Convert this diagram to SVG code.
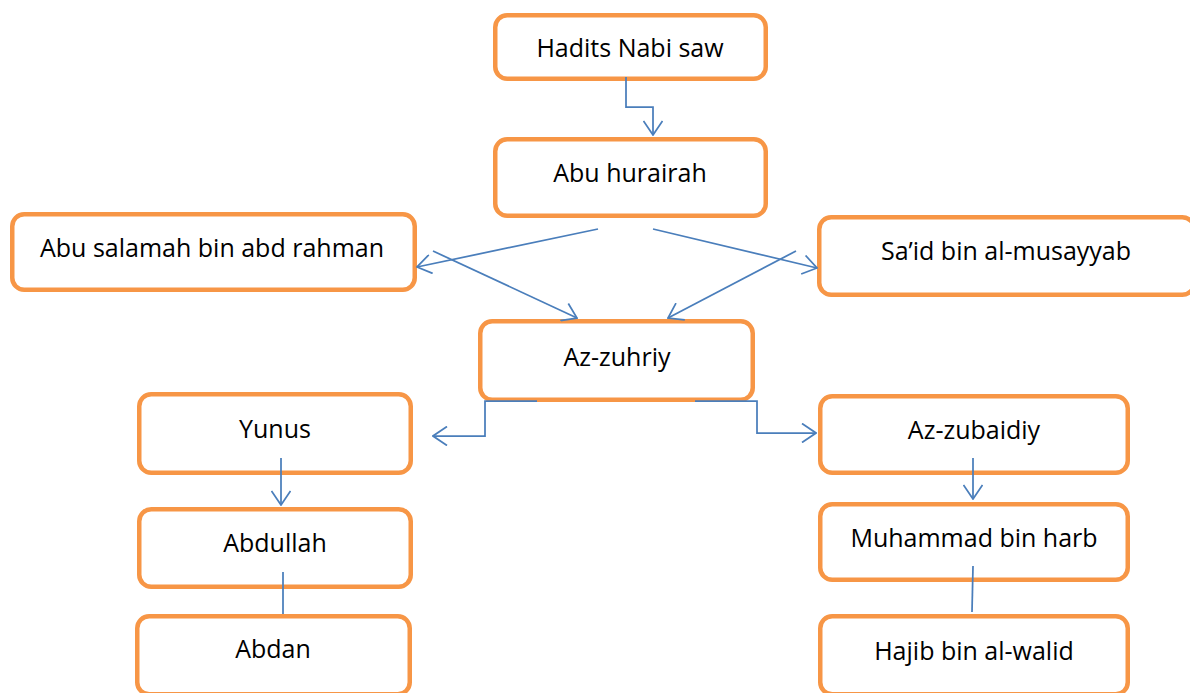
<svg xmlns="http://www.w3.org/2000/svg" width="1190" height="693" viewBox="0 0 1190 693">
<style>
.box{fill:#ffffff;stroke:#F79646;stroke-width:4.5}
.lbl{font-family:"Open Sans","Liberation Sans",sans-serif;font-size:25px;fill:#000000;text-anchor:middle}
.con{fill:none;stroke:#4A7EBB;stroke-width:1.75}
</style>
<defs>
<marker id="arr" viewBox="0 0 16 20" refX="15" refY="10" markerWidth="16" markerHeight="20" markerUnits="userSpaceOnUse" orient="auto">
<path d="M1,0.5 L15,10 L1,19.5" fill="none" stroke="#4A7EBB" stroke-width="1.75"/>
</marker>
</defs>
<rect width="1190" height="693" fill="#ffffff"/>
<g id="n-hadits"><rect class="box" x="495.25" y="15.25" width="270.5" height="63.5" rx="12"/><text class="lbl" x="630" y="57">Hadits Nabi saw</text></g>
<g id="n-abuhurairah"><rect class="box" x="495.25" y="139.25" width="270.5" height="76.5" rx="12"/><text class="lbl" x="630" y="182">Abu hurairah</text></g>
<g id="n-abusalamah"><rect class="box" x="12.25" y="214.25" width="402.5" height="75.5" rx="12"/><text class="lbl" x="212" y="257">Abu salamah bin abd rahman</text></g>
<g id="n-said"><rect class="box" x="819.25" y="217.25" width="375" height="77.5" rx="12"/><text class="lbl" x="1006" y="260">Sa’id bin al-musayyab</text></g>
<g id="n-azzuhriy"><rect class="box" x="480.25" y="321.25" width="272.5" height="78.5" rx="12"/><text class="lbl" x="617" y="366">Az-zuhriy</text></g>
<g id="n-yunus"><rect class="box" x="139.25" y="394.25" width="271.5" height="78.5" rx="12"/><text class="lbl" x="275" y="438">Yunus</text></g>
<g id="n-azzubaidiy"><rect class="box" x="820.25" y="396.25" width="307.5" height="76.5" rx="12"/><text class="lbl" x="974" y="439">Az-zubaidiy</text></g>
<g id="n-abdullah"><rect class="box" x="139.25" y="509.25" width="271.5" height="77.5" rx="12"/><text class="lbl" x="275" y="552">Abdullah</text></g>
<g id="n-muhammad"><rect class="box" x="820.25" y="504.25" width="307.5" height="75.5" rx="12"/><text class="lbl" x="974" y="547">Muhammad bin harb</text></g>
<g id="n-abdan"><rect class="box" x="137.25" y="616.25" width="272.5" height="78" rx="12"/><text class="lbl" x="273" y="658">Abdan</text></g>
<g id="n-hajib"><rect class="box" x="820.25" y="616.25" width="307.5" height="78" rx="12"/><text class="lbl" x="974" y="660">Hajib bin al-walid</text></g>
<g id="connectors">
<polyline class="con" points="626,77 626,107 653,107 653,135" marker-end="url(#arr)"/>
<line class="con" x1="598" y1="229" x2="417" y2="267" marker-end="url(#arr)"/>
<line class="con" x1="433" y1="251" x2="577" y2="318" marker-end="url(#arr)"/>
<line class="con" x1="653" y1="229" x2="817" y2="268" marker-end="url(#arr)"/>
<line class="con" x1="796" y1="251" x2="668" y2="318" marker-end="url(#arr)"/>
<polyline class="con" points="537,401 485,401 485,436 433,436" marker-end="url(#arr)"/>
<polyline class="con" points="695,401 757,401 757,433 816,433" marker-end="url(#arr)"/>
<line class="con" x1="281" y1="458" x2="281" y2="505" marker-end="url(#arr)"/>
<line class="con" x1="283" y1="572" x2="283" y2="614"/>
<line class="con" x1="973" y1="458" x2="973" y2="499" marker-end="url(#arr)"/>
<line class="con" x1="973" y1="566" x2="972" y2="612"/>
</g>
</svg>
